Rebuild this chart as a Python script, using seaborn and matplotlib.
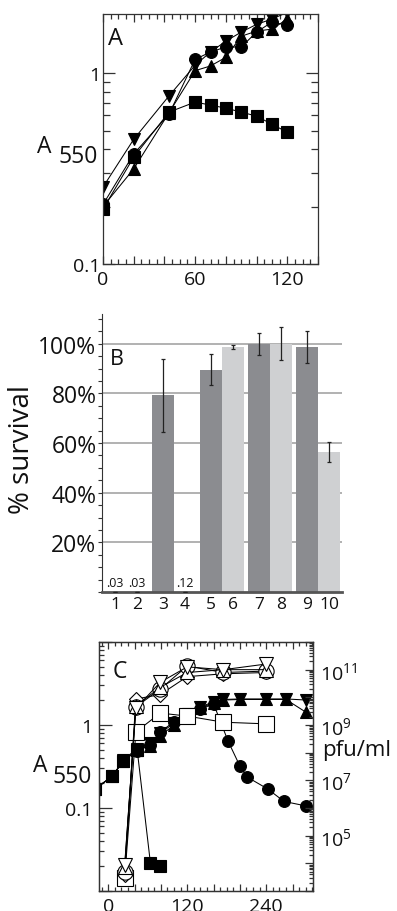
import numpy as np
import pandas as pd
import matplotlib
matplotlib.use("Agg")
import matplotlib.pyplot as plt
import seaborn as sns
from matplotlib.ticker import (MultipleLocator, FixedLocator, FuncFormatter,
                               LogLocator, NullFormatter)

# ---------------- data ----------------
# Panel A : A550 vs time (min)
tA = [0, 20, 43, 60, 70, 80, 90, 100, 110, 120]
A_circle = [0.205, 0.377, 0.61, 1.18, 1.29, 1.37, 1.37, 1.64, 1.85, 1.78]
A_triup = [0.20, 0.315, 0.62, 1.03, 1.09, 1.21, 1.56, 1.66, 1.70, 1.92]
A_tridown = [0.253, 0.45, 0.76, 1.10, 1.29, 1.47, 1.64, 1.80, 1.92, 2.08]
A_square = [0.194, 0.363, 0.625, 0.705, 0.68, 0.655, 0.625, 0.595, 0.54, 0.49]

# Panel B : % survival
bar_labels = ["1", "2", "3", "4", "5", "6", "7", "8", "9", "10"]
pair = [1, 1, 2, 2, 3, 3, 4, 4, 5, 5]
kind = ["dark", "light"] * 5
survival = [0.03, 0.03, 79.2, 0.12, 89.6, 98.8, 100.0, 100.0, 98.8, 56.4]
surv_err = [0.0, 0.0, 14.6, 0.0, 6.2, 0.8, 4.4, 6.6, 6.4, 4.2]
small_vals = {0: ".03", 1: ".03", 3: ".12"}

# Panel C : A550 (filled, left axis) and pfu/ml (open, right axis)
tC_f = [-20, 6, 23, 44, 64, 79, 100, 121, 140, 160, 175, 200, 240, 270, 300]
C_triup = [0.17, 0.24, 0.37, 0.50, 0.56, 0.74, 1.00, 1.30, 1.60, 1.85, 2.00, 2.03, 2.03, 2.03, 1.43]
C_tridown = [0.17, 0.24, 0.38, 0.52, 0.60, 0.80, 1.05, 1.35, 1.65, 1.90, 2.03, 2.06, 2.06, 2.06, 2.00]
tC_circ = [-20, 6, 23, 44, 64, 79, 100, 121, 140, 160, 182, 200, 211, 242, 267, 300]
C_circle = [0.17, 0.24, 0.37, 0.49, 0.58, 0.82, 1.10, 1.30, 1.55, 1.80, 0.64, 0.32, 0.236, 0.17, 0.12, 0.106]
tC_sq = [-20, 6, 23, 44, 64, 79]
C_square = [0.17, 0.24, 0.37, 0.50, 0.022, 0.020]

tC_o = [25, 42, 79, 120, 175, 240]
P_circle = [5.0e3, 4.5e9, 2.0e10, 1.35e11, 7.9e10, 8.9e10]
P_triup = [7.4e3, 4.9e9, 2.3e10, 7.9e10, 1.0e11, 1.0e11]
P_tridown = [8.9e3, 4.0e9, 3.5e10, 1.26e11, 1.0e11, 1.6e11]
P_diamond = [3.8e3, 8.7e9, 1.26e10, 5.6e10, 7.1e10, 7.9e10]
P_square = [3.0e3, 5.6e8, 2.7e9, 2.1e9, 1.26e9, 1.1e9]

# ---------------- style ----------------
sns.set_style("ticks")
plt.rcParams["font.family"] = ["Open Sans", "DejaVu Sans"]
plt.rcParams["mathtext.fontset"] = "custom"
plt.rcParams["mathtext.rm"] = "Open Sans"
plt.rcParams["axes.edgecolor"] = "#333333"
plt.rcParams["axes.linewidth"] = 0.9
plt.rcParams["xtick.color"] = "#333333"
plt.rcParams["ytick.color"] = "#333333"
plt.rcParams["xtick.labelcolor"] = "#111111"
plt.rcParams["ytick.labelcolor"] = "#111111"
plt.rcParams["text.color"] = "#111111"

W, H = 397, 912
fig = plt.figure(figsize=(W / 100, H / 100), dpi=100)


def box(l, t, r, b):
    return [l / W, 1 - b / H, (r - l) / W, (b - t) / H]


def draw(ax, x, y, marker, ms, filled=True):
    sns.lineplot(x=x, y=y, ax=ax, color="k", linewidth=0.75, marker=marker,
                 markersize=ms, markerfacecolor="k" if filled else "white",
                 markeredgecolor="k", markeredgewidth=0.8, sort=False,
                 estimator=None, clip_on=True)


# ---------------- Panel A ----------------
axA = fig.add_axes(box(103, 15, 318, 265))
draw(axA, tA, A_square, "s", 9)
draw(axA, tA, A_circle, "o", 8.5)
draw(axA, tA, A_triup, "^", 9)
draw(axA, tA, A_tridown, "v", 9)
axA.set_yscale("log")
axA.set_xlim(0, 140)
axA.set_ylim(0.1, 2.04)
axA.xaxis.set_major_locator(MultipleLocator(20))
axA.xaxis.set_minor_locator(MultipleLocator(5))
axA.xaxis.set_major_formatter(FuncFormatter(
    lambda v, p: f"{v:.0f}" if round(v) in (0, 60, 120) else ""))
axA.yaxis.set_major_locator(FixedLocator([0.1, 1]))
axA.yaxis.set_minor_locator(FixedLocator([0.2, 0.3, 0.4, 0.5, 0.6, 0.7, 0.8, 0.9]))
axA.yaxis.set_major_formatter(FuncFormatter(lambda v, p: "1" if v > 0.5 else "0.1"))
axA.yaxis.set_minor_formatter(NullFormatter())
axA.tick_params(axis="both", which="both", direction="in", top=True, right=True,
                labelsize=14, width=0.9)
axA.tick_params(axis="x", which="major", length=6, pad=4)
axA.tick_params(axis="x", which="minor", length=3.5)
axA.tick_params(axis="y", which="major", length=8.5, pad=2)
axA.tick_params(axis="y", which="minor", length=5)
axA.set_xlabel("")
axA.set_ylabel("")
axA.text(0.023, 0.88, "A", transform=axA.transAxes, fontsize=17, va="baseline", ha="left")
fig.text(37 / W, 1 - 153 / H, "A", fontsize=16.5, va="baseline", ha="left")
fig.text(58 / W, 1 - 163 / H, "550", fontsize=16.5, va="baseline", ha="left")

# ---------------- Panel B ----------------
axB = fig.add_axes(box(102, 315, 342, 593))
dfB = pd.DataFrame({"pair": pair, "kind": kind, "survival": survival})
sns.barplot(data=dfB, x="pair", y="survival", hue="kind",
            palette={"dark": "#8b8c90", "light": "#cfd0d2"}, width=0.92,
            saturation=1, errorbar=None, legend=False, linewidth=0, ax=axB)
bars = sorted(axB.patches, key=lambda p: p.get_x())
centers = [p.get_x() + p.get_width() / 2 for p in bars]
heights = [p.get_height() for p in bars]
axB.errorbar(centers, heights, yerr=surv_err, fmt="none", ecolor="#222222",
             elinewidth=0.9, capsize=1.6, capthick=0.9, zorder=5)
for i, s in small_vals.items():
    axB.text(centers[i], heights[i] + 1.0, s, fontsize=9, ha="center", va="bottom")
axB.set_ylim(0, 112)
axB.set_xlim(-0.5, 4.5)
axB.yaxis.set_major_locator(FixedLocator([20, 40, 60, 80, 100]))
axB.yaxis.set_minor_locator(MultipleLocator(5))
axB.yaxis.set_major_formatter(FuncFormatter(lambda v, p: f"{v:.0f}%"))
axB.set_xticks(centers)
axB.set_xticklabels(bar_labels)
axB.tick_params(axis="x", length=0, labelsize=12.5, pad=3)
axB.tick_params(axis="y", which="both", direction="out", length=3, width=0.8,
                labelsize=16.5, pad=1)
axB.yaxis.grid(True, which="major", color="#a4a4a4", linewidth=1.2)
axB.set_axisbelow(True)
for s in ("top", "right"):
    axB.spines[s].set_visible(False)
axB.spines["left"].set_linewidth(0.8)
axB.spines["bottom"].set_color("#555555")
axB.spines["bottom"].set_linewidth(2)
axB.set_xlabel("")
axB.set_ylabel("")
axB.text(0.033, 0.82, "B", transform=axB.transAxes, fontsize=15.5, va="baseline", ha="left")
fig.text(22 / W, 1 - 450 / H, "% survival", rotation=90, fontsize=20,
         va="center", ha="center")

# ---------------- Panel C ----------------
axC = fig.add_axes(box(99, 643, 313, 892))
draw(axC, tC_sq, C_square, "s", 8.5)
draw(axC, tC_circ, C_circle, "o", 8.5)
draw(axC, tC_f, C_triup, "^", 9)
draw(axC, tC_f, C_tridown, "v", 9)
axC.set_yscale("log")
axC.set_xlim(-14, 311)
axC.set_ylim(0.01, 10)
axC.xaxis.set_major_locator(MultipleLocator(40))
axC.xaxis.set_minor_locator(MultipleLocator(10))
axC.xaxis.set_major_formatter(FuncFormatter(
    lambda v, p: f"{v:.0f}" if round(v) in (0, 120, 240) else ""))
axC.yaxis.set_major_locator(FixedLocator([0.01, 0.1, 1, 10]))
axC.yaxis.set_minor_locator(LogLocator(base=10, subs=np.arange(2, 10), numticks=100))
axC.yaxis.set_major_formatter(FuncFormatter(
    lambda v, p: {0.1: "0.1", 1.0: "1"}.get(round(v, 3), "")))
axC.yaxis.set_minor_formatter(NullFormatter())
axC.tick_params(axis="both", which="both", direction="in", top=True, right=False,
                labelsize=14, width=0.9)
axC.tick_params(axis="x", which="major", length=5, pad=4)
axC.tick_params(axis="x", which="minor", length=3)
axC.tick_params(axis="y", which="major", length=9, pad=5)
axC.tick_params(axis="y", which="minor", length=3.5)
axC.set_xlabel("")
axC.set_ylabel("")

axC2 = axC.twinx()
draw(axC2, tC_o, P_square, "s", 11, filled=False)
draw(axC2, tC_o, P_diamond, "D", 7.5, filled=False)
draw(axC2, tC_o, P_circle, "o", 11, filled=False)
draw(axC2, tC_o, P_triup, "^", 9.5, filled=False)
draw(axC2, tC_o, P_tridown, "v", 9.5, filled=False)
axC2.set_yscale("log")
axC2.set_ylim(1e3, 1e12)
axC2.set_xlim(-14, 311)
axC2.yaxis.set_major_locator(FixedLocator([10.0 ** e for e in range(3, 13)]))
axC2.yaxis.set_minor_locator(LogLocator(base=10, subs=np.arange(2, 10), numticks=100))


def pfu_fmt(v, p):
    e = int(round(np.log10(v)))
    return rf"$\mathregular{{10^{{{e}}}}}$" if e in (5, 7, 9, 11) else ""


axC2.yaxis.set_major_formatter(FuncFormatter(pfu_fmt))
axC2.yaxis.set_minor_formatter(NullFormatter())
axC2.tick_params(axis="y", which="both", direction="in", labelsize=14, width=0.9)
axC2.tick_params(axis="y", which="major", length=6, pad=5)
axC2.tick_params(axis="y", which="minor", length=3)
axC2.set_ylabel("")
axC2.set_xlabel("")
axC.text(0.065, 0.859, "C", transform=axC.transAxes, fontsize=16.5, va="baseline", ha="left")
fig.text(33 / W, 1 - 772 / H, "A", fontsize=16.5, va="baseline", ha="left")
fig.text(53 / W, 1 - 783 / H, "550", fontsize=16.5, va="baseline", ha="left")
fig.text(322 / W, 1 - 751 / H, "pfu/ml", fontsize=16, va="center", ha="left")

fig.savefig("out.png", dpi=100)
